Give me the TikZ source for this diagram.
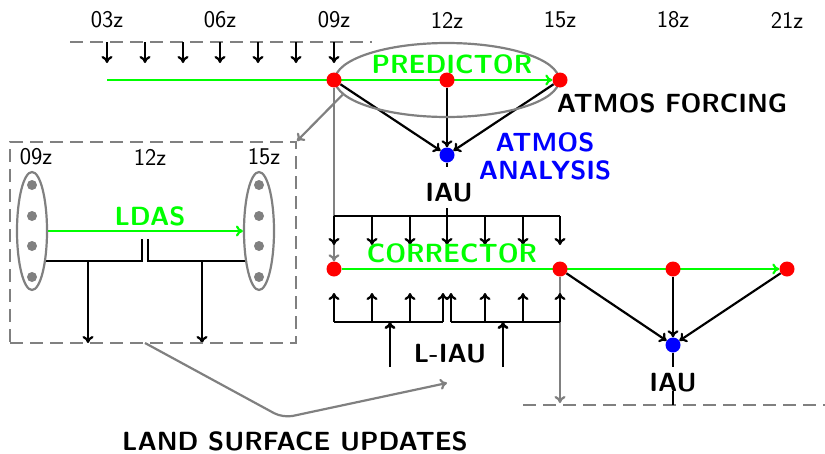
\documentclass[tikz,border=0pt]{standalone}
\usetikzlibrary{shapes.geometric,arrows.meta,calc}
\pgfdeclarelayer{bg}
\pgfsetlayers{bg,main}
\begin{document}
\begin{tikzpicture}[x=1pt,y=-1pt,
  font=\sffamily\fontsize{24}{28}\selectfont,
  lw/.style={line width=2.2pt},
  tip/.style={-{Computer Modern Rightarrow[length=7pt,width=11pt]}},
  graytip/.style={gray,line width=2.2pt,-{Computer Modern Rightarrow[length=7pt,width=11pt]}},
  dashgray/.style={gray,line width=2pt,dash pattern=on 13pt off 7pt},
  reddot/.style={circle,fill=red,minimum size=15pt,inner sep=0pt},
  bluedot/.style={circle,fill=blue,minimum size=15pt,inner sep=0pt},
  greydot/.style={circle,fill=gray,minimum size=10pt,inner sep=0pt},
  boldlbl/.style={font=\sffamily\bfseries\fontsize{26.3}{28}\selectfont},
  greenlbl/.style={boldlbl,text=green},
  ring/.style={ellipse,draw=gray,line width=2.2pt,inner sep=0pt}]
\useasboundingbox (0,0) rectangle (825,453);

% time labels
\foreach \t/\x in {03z/107,06z/220,09z/334,12z/447,15z/560,18z/673,21z/787}
  \node (t\t) at (\x,20) {\t};

% predictor
\node[ring,minimum width=224pt,minimum height=74pt] (pred) at (447,80) {};
\node[greenlbl] (predlbl) at (452,64) {PREDICTOR};
\coordinate (pstart) at (107,80);
\node[reddot] (p09) at (334,80) {};
\node[reddot] (p12) at (447,80) {};
\node[reddot] (p15) at (560,80) {};
\node[boldlbl] (forcing) at (672,103) {ATMOS FORCING};

\coordinate (dl) at (70,42);
\coordinate (dr) at (372,42);
\draw[dashgray] (dl) -- (dr);
\foreach \x in {107,145,183,220,258,296,334}
  \draw[lw,tip] (\x,42) -- (\x,63);

\node[bluedot] (a1) at (447,155) {};
\node[boldlbl,text=blue,align=center] (anal) at (545,156) {ATMOS\\ANALYSIS};
\node[boldlbl] (iau1) at (449,193) {IAU};
\coordinate (iau1top) at (447,167);
\coordinate (iau1bot) at (447,208);
\coordinate (brtop) at (447,216);

% corrector
\node[reddot] (c09) at (334,269) {};
\node[reddot] (c15) at (560,269) {};
\node[reddot] (c18) at (673,269) {};
\node[reddot] (c21) at (787,269) {};
\node[greenlbl] (corrlbl) at (452,253) {CORRECTOR};
\node[bluedot] (b1) at (673,345) {};
\node[boldlbl] (iau2) at (673,383) {IAU};
\coordinate (iau2top) at (673,367);
\coordinate (iau2bot) at (673,391);
\coordinate (iau2end) at (673,405);
\node[boldlbl] (liau) at (450,354) {L-IAU};
\coordinate (dl2) at (523,405);
\coordinate (dr2) at (825,405);
\coordinate (c15end) at (560,403);

% LDAS box
\node[draw=gray,line width=2pt,dash pattern=on 13pt off 7pt,minimum width=286pt,minimum height=201pt,inner sep=0pt] (box) at (153,242.5) {};
\node (b09) at (36,157) {09z};
\node (b12) at (150,157) {12z};
\node (b15) at (264,157) {15z};
\node[ring,minimum width=30pt,minimum height=118pt] (L1) at (32,231) {};
\node[ring,minimum width=30pt,minimum height=118pt] (L2) at (259,231) {};
\foreach \y [count=\i] in {185,216,246,277} {
  \node[greydot] (ld\i) at (32,\y) {};
  \node[greydot] (rd\i) at (259,\y) {};
}
\node[greenlbl] (ldas) at (150,216) {LDAS};
\node[boldlbl,anchor=base,text depth=0pt,inner sep=0pt] (lsu) at (295,450) {LAND SURFACE UPDATES};
\coordinate (lsustart) at (145,343);
\coordinate (lsubend) at (283,418);
\coordinate (lsuend) at (447,383);

\begin{pgfonlayer}{bg}
  % predictor lines
  \draw[green,lw,tip] (pstart) -- (p15);
  \draw[lw,tip] (p09) -- (a1);
  \draw[lw,tip] (p12) -- (a1);
  \draw[lw,tip] (p15) -- (a1);
  \draw[lw] (a1) -- (iau1top);
  \draw[lw] (iau1bot) -- (brtop);
  \draw[graytip] (p09) -- (c09);
  \draw[graytip] (pred.188) -- (box.north east);
  % corrector bracket
  \draw[lw] (334,216) -- (560,216);
  \foreach \x in {334,372,410,447,485,523,560}
    \draw[lw,tip] (\x,216) -- (\x,245);
  \draw[green,lw,tip] (c09) -- (c21);
  \draw[graytip] (c15) -- (c15end);
  \draw[dashgray] (dl2) -- (dr2);
  % L-IAU brackets
  \draw[lw] (334,322) -- (443,322);
  \draw[lw] (451,322) -- (560,322);
  \foreach \x in {334,372,410,443,451,485,523,560}
    \draw[lw,tip] (\x,322) -- (\x,293);
  \draw[line width=2.6pt,tip] (390,367) -- (390,322);
  \draw[line width=2.6pt,tip] (503,367) -- (503,322);
  % corrector analysis
  \draw[lw,tip] (c15) -- (b1);
  \draw[lw,tip] (c18) -- (b1);
  \draw[lw,tip] (c21) -- (b1);
  \draw[lw] (b1) -- (iau2top);
  \draw[lw] (iau2bot) -- (iau2end);
  % LDAS internals
  \draw[green,lw,tip] (L1) -- (L2);
  \draw[lw] (45,261) -- (142,261) -- (142,239);
  \draw[lw] (148,239) -- (148,261) -- (246,261);
  \draw[lw,tip] (88,261) -- (88,343);
  \draw[lw,tip] (202,261) -- (202,343);
  \draw[graytip,rounded corners=10pt] (lsustart) -- (lsubend) -- (lsuend);
\end{pgfonlayer}
\end{tikzpicture}
\end{document}
